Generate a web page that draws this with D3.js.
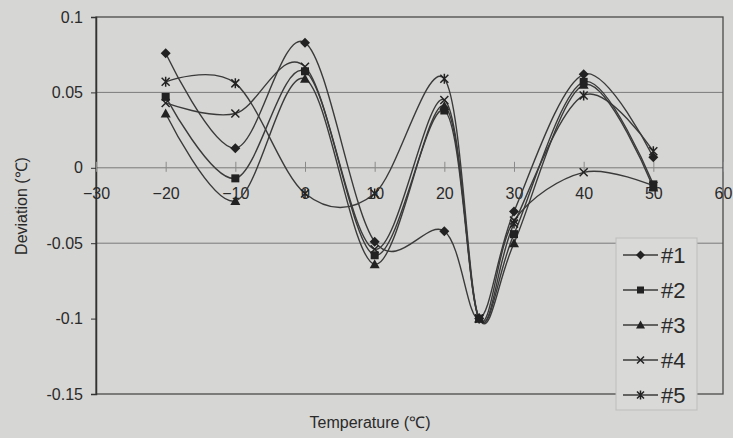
<!DOCTYPE html>
<html>
<head>
<meta charset="utf-8">
<script src="https://cdn.jsdelivr.net/npm/d3@7"></script>
<style>
  body { margin: 0; background: #d6d6d4; }
  svg { display: block; font-family: "Liberation Sans", Arial, sans-serif; }
</style>
</head>
<body>
<div id="chart"></div>
<script>
// temperatures (x) and the five sensor series
const temps = [-20, -10, 0, 10, 20, 25, 30, 40, 50];
const s1 = [0.076, 0.013, 0.083, -0.049, -0.042, -0.1, -0.029, 0.062, 0.007];
const s2 = [0.047, -0.007, 0.064, -0.058, 0.038, -0.1, -0.044, 0.057, -0.011];
const s3 = [0.036, -0.022, 0.059, -0.064, 0.041, -0.1, -0.050, 0.055, -0.013];
const s4 = [0.043, 0.036, 0.067, -0.054, 0.045, -0.1, -0.035, -0.003, -0.012];
const s5 = [0.057, 0.056, -0.017, -0.017, 0.059, -0.1, -0.037, 0.048, 0.011];
const seriesNames = ["#1", "#2", "#3", "#4", "#5"];
const seriesMarks = ["diamond", "square", "triangle", "cross", "star"];
const xTicks = [-30, -20, -10, 0, 10, 20, 30, 40, 50, 60];
const yTicks = [0.1, 0.05, 0, -0.05, -0.1, -0.15];
const yTickLabels = ["0.1", "0.05", "0", "-0.05", "-0.1", "-0.15"];
const gridValues = [0.05, 0, -0.05];

const W = 733, H = 438;
const margin = { top: 17, right: 10, bottom: 44, left: 96 },
      width = W - margin.left - margin.right,
      height = H - margin.top - margin.bottom;

const svg = d3.select("#chart").append("svg")
    .attr("width", W)
    .attr("height", H);

svg.append("rect").attr("width", W).attr("height", H).attr("fill", "#d6d6d4");

const chart = svg.append("g")
    .attr("transform", `translate(${margin.left},${margin.top})`);

const x = d3.scaleLinear().domain([-30, 60]).range([0, width]);
const y = d3.scaleLinear().domain([-0.15, 0.1]).range([height, 0]);

// gridlines
chart.selectAll(".grid")
    .data(gridValues)
    .enter()
    .append("line")
    .attr("x1", 0).attr("x2", width)
    .attr("y1", d => y(d)).attr("y2", d => y(d))
    .attr("stroke", "#7a7a7a")
    .attr("stroke-width", 1);

// plot border
chart.append("rect")
    .attr("width", width).attr("height", height)
    .attr("fill", "none")
    .attr("stroke", "#4a4a4a")
    .attr("stroke-width", 1.3);

// y axis
const yAxis = chart.append("g")
    .call(d3.axisLeft(y).tickValues(yTicks).tickSize(5).tickPadding(8)
        .tickFormat((d, i) => yTickLabels[i]));
yAxis.select(".domain").attr("stroke", "#333").attr("stroke-width", 1.5);
yAxis.selectAll(".tick line").attr("stroke", "#333");
yAxis.selectAll("text").attr("fill", "#2a2a2a").style("font-size", "16px")
    .style("font-family", "'Liberation Sans', Arial, sans-serif");

// x axis crossing at y = 0
const xAxis = chart.append("g")
    .attr("transform", `translate(0,${y(0)})`)
    .call(d3.axisBottom(x).tickValues(xTicks).tickSize(0).tickPadding(20));
xAxis.select(".domain").remove();
xAxis.selectAll(".tick").append("line")
    .attr("y1", -6).attr("y2", 4)
    .attr("stroke", "#8a8a8a");
xAxis.selectAll("text").attr("fill", "#2a2a2a").style("font-size", "16px")
    .style("font-family", "'Liberation Sans', Arial, sans-serif");

// marker drawing
function marker(sel, type, s) {
    const h = s / 2;
    if (type === "diamond") {
        sel.append("path").attr("d", `M0,${-h - 1}L${h + 1},0L0,${h + 1}L${-h - 1},0Z`).attr("fill", "#222");
    } else if (type === "square") {
        sel.append("rect").attr("x", -h).attr("y", -h).attr("width", s).attr("height", s).attr("fill", "#222");
    } else if (type === "triangle") {
        sel.append("path").attr("d", `M0,${-h - 1}L${h + 1},${h}L${-h - 1},${h}Z`).attr("fill", "#222");
    } else if (type === "cross") {
        sel.append("path").attr("d", `M${-h},${-h}L${h},${h}M${-h},${h}L${h},${-h}`)
            .attr("stroke", "#222").attr("stroke-width", 1.5).attr("fill", "none");
    } else {
        sel.append("path").attr("d", `M${-h},${-h}L${h},${h}M${-h},${h}L${h},${-h}M0,${-h - 1}L0,${h + 1}`)
            .attr("stroke", "#222").attr("stroke-width", 1.5).attr("fill", "none");
    }
}

const allSeries = [s1, s2, s3, s4, s5];
// uniform catmull-rom, close to excel's smoothed lines
const line = d3.line()
    .x(d => x(d.t))
    .y(d => y(d.v))
    .curve(d3.curveCatmullRom.alpha(0));

allSeries.forEach((vals, i) => {
    const pts = temps.map((t, j) => ({ t: t, v: vals[j] }));
    chart.append("path")
        .datum(pts)
        .attr("fill", "none")
        .attr("stroke", "#3a3a3a")
        .attr("stroke-width", 1.4)
        .attr("d", line);
});

allSeries.forEach((vals, i) => {
    temps.forEach((t, j) => {
        const g = chart.append("g").attr("transform", `translate(${x(t)},${y(vals[j])})`);
        marker(g, seriesMarks[i], 8);
    });
});

// axis titles
svg.append("text")
    .attr("x", 370).attr("y", 428)
    .attr("text-anchor", "middle")
    .attr("fill", "#2a2a2a")
    .style("font-size", "16px")
    .text("Temperature (\u2103)");

svg.append("text")
    .attr("transform", "translate(27,206) rotate(-90)")
    .attr("text-anchor", "middle")
    .attr("fill", "#2a2a2a")
    .style("font-size", "16px")
    .text("Deviation (\u2103)");

// legend
const legend = svg.append("g").attr("transform", "translate(616,238)");
legend.append("rect")
    .attr("width", 81).attr("height", 172)
    .attr("fill", "#d9d9d7")
    .attr("stroke", "#bdbdbd");
seriesNames.forEach((name, i) => {
    const ly = 17 + i * 35;
    legend.append("line")
        .attr("x1", 7).attr("x2", 42).attr("y1", ly).attr("y2", ly)
        .attr("stroke", "#3a3a3a").attr("stroke-width", 1.4);
    marker(legend.append("g").attr("transform", `translate(24.5,${ly})`), seriesMarks[i], 7);
    legend.append("text")
        .attr("x", 45).attr("y", ly + 8)
        .attr("fill", "#2a2a2a")
        .style("font-size", "22px")
        .text(name);
});
</script>
</body>
</html>
